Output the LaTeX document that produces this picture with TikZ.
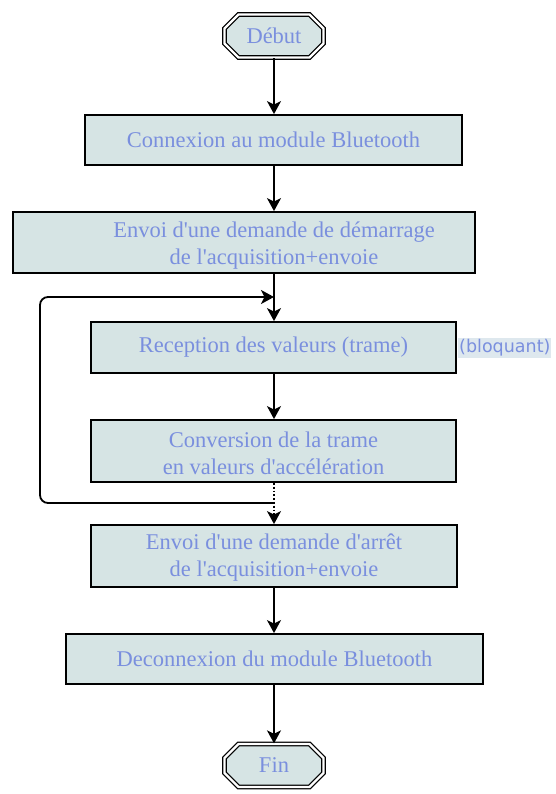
\documentclass[tikz,border=0pt]{standalone}
\usepackage{fontspec}
\setmainfont{Liberation Serif}[Ligatures=TeXOff]
\newfontfamily\tagfont{DejaVu Sans}
\usetikzlibrary{shapes.misc,arrows.meta}
\definecolor{boxfill}{RGB}{214,228,228}
\definecolor{boxtext}{RGB}{122,143,222}
\definecolor{tagfill}{RGB}{222,232,238}
\tikzset{
  x=1pt, y=-1pt,
  stepbox/.style={draw=black, line width=1.8pt, fill=boxfill, inner sep=0pt},
  steptext/.style={text=boxtext, font=\fontsize{22.5}{27}\selectfont, align=center, inner sep=0pt},
  term/.style={chamfered rectangle, chamfered rectangle xsep=7pt, chamfered rectangle ysep=7pt,
     draw=black, line width=1.3pt, double=white, double distance=2.2pt, fill=boxfill,
     minimum width=99pt, minimum height=43pt, inner sep=0pt,
     text=boxtext, font=\fontsize{22.5}{27}\selectfont},
  flow/.style={draw=black, line width=1.8pt, -{Stealth[length=13pt,width=14pt,inset=3.5pt]}},
}
\begin{document}
\begin{tikzpicture}
\useasboundingbox (0,0) rectangle (556,794);
\node[term] (debut) at (274,36) {Début};
\node[stepbox, minimum width=377pt, minimum height=50pt] (b1) at (273.5,140) {};
\node[steptext] (b1t) at (273.5,140) {Connexion au module Bluetooth};
\node[stepbox, minimum width=462pt, minimum height=61pt] (b2) at (244,242.5) {};
\node[steptext] (b2t) at (274,245.5) {Envoi d'une demande de démarrage\\de l'acquisition+envoie};
\node[stepbox, minimum width=365pt, minimum height=51pt] (b3) at (273.5,347.5) {};
\node[steptext] (b3t) at (273.5,347.5) {Reception des valeurs (trame)};
\node[fill=tagfill, text=boxtext, font=\tagfont\fontsize{17.5}{20}\selectfont, inner xsep=1pt, inner ysep=2pt, anchor=west] (tag) at (458,348) {(bloquant)};
\node[stepbox, minimum width=365pt, minimum height=62pt] (b4) at (273.5,451) {};
\node[steptext] (b4t) at (273.5,453) {Conversion de la trame\\en valeurs d'accélération};
\node[stepbox, minimum width=366pt, minimum height=62pt] (b5) at (274,556) {};
\node[steptext] (b5t) at (274,558) {Envoi d'une demande d'arrêt\\de l'acquisition+envoie};
\node[stepbox, minimum width=417pt, minimum height=50pt] (b6) at (274.5,659) {};
\node[steptext] (b6t) at (274.5,659) {Deconnexion du module Bluetooth};
\node[term] (fin) at (274,765.5) {Fin};
\coordinate (lb) at (274,503);
\coordinate (lt) at (274,297);
\draw[flow] (debut.south -| 274,0) -- (b1.north -| 274,0);
\draw[flow] (b1.south -| 274,0) -- (b2.north -| 274,0);
\draw[flow] (b2.south -| 274,0) -- (b3.north -| 274,0);
\draw[flow] (b3.south -| 274,0) -- (b4.north -| 274,0);
\draw[flow, dotted] (b4.south -| 274,0) -- (b5.north -| 274,0);
\draw[flow, rounded corners=8pt] (lb) -- (40,503) -- (40,297) -- (lt);
\draw[flow] (b5.south -| 274,0) -- (b6.north -| 274,0);
\draw[flow] (b6.south -| 274,0) -- (fin.north -| 274,0);
\end{tikzpicture}
\end{document}
